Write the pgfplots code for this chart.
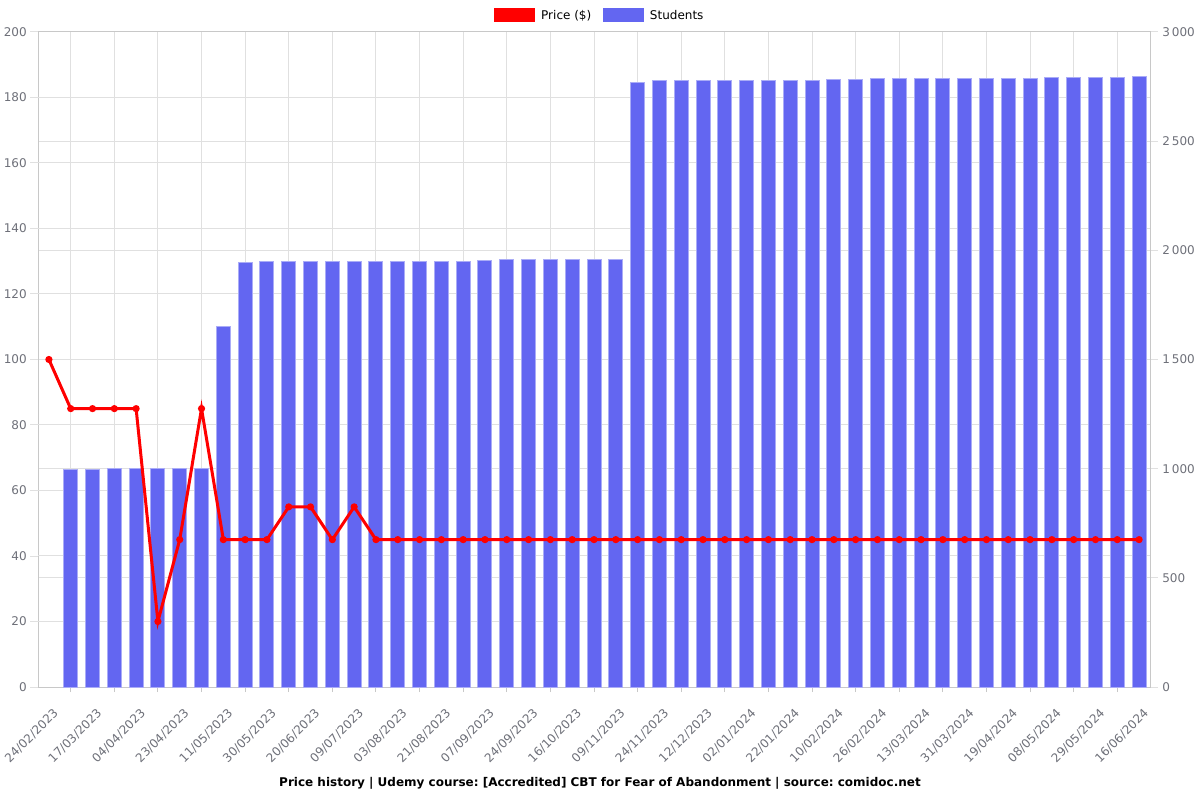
\documentclass[border=0pt]{standalone}
\usepackage{fontspec}
\setmainfont{DejaVu Sans}
\usepackage{pgfplots}
\pgfplotsset{compat=1.18}
\frenchspacing
\definecolor{barblue}{RGB}{99,102,241}
\definecolor{baredge}{RGB}{170,172,247}
\definecolor{tickgray}{RGB}{110,112,121}
\definecolor{gridgray}{RGB}{224,224,224}
\definecolor{axisgray}{RGB}{200,200,200}
\pgfplotsset{
  /pgf/number format/assume math mode=true,
  every axis/.append style={
    at={(0pt,0pt)}, anchor=south west,
    scale only axis, width=834pt, height=491.25pt,
    xmin=-0.5, xmax=50.5,
    tick align=outside,
    ticklabel style={font=\fontsize{9}{11}\selectfont, text=tickgray},
  }
}
\begin{document}
\begin{tikzpicture}
\useasboundingbox (-28.5pt,-84.75pt) rectangle (871.5pt,515.25pt);
% Bars axis (right scale), also draws all grids and the x axis
\begin{axis}[
  ymin=0, ymax=3000,
  xtick={0,2,...,50},
  xticklabels={24/02/2023,17/03/2023,04/04/2023,23/04/2023,11/05/2023,30/05/2023,20/06/2023,09/07/2023,03/08/2023,21/08/2023,07/09/2023,24/09/2023,16/10/2023,09/11/2023,24/11/2023,12/12/2023,02/01/2024,22/01/2024,10/02/2024,26/02/2024,13/03/2024,31/03/2024,19/04/2024,08/05/2024,29/05/2024,16/06/2024},
  x tick label style={rotate=45, anchor=north east, inner sep=0pt, yshift=-8.5pt, xshift=-4.75pt},
  minor xtick={1,3,...,49},
  xminorgrids,
  minor grid style={gridgray, line width=0.75pt},
  major grid style={gridgray, line width=0.75pt},
  xtick pos=left,
  x tick style={draw=none},
  minor x tick style={draw=axisgray, line width=0.75pt},
  minor tick length=3.75pt,
  ytick={0,500,...,3000},
  ytick pos=right, yticklabel pos=right,
  ymajorgrids,
  y tick style={draw=gridgray, line width=0.75pt},
  major tick length=6pt,
  y tick label style={anchor=west, inner sep=0pt, xshift=3pt,
    /pgf/number format/1000 sep={\,}},
  extra y ticks={300,600,900,1200,1800,2100,2400,2700},
  extra y tick labels={},
  extra y tick style={grid=major, major tick length=0pt},
  axis line style={draw=axisgray, line width=0.75pt},
]
\addplot[ybar, bar width=10.5pt, fill=barblue, draw=baredge, line width=0.75pt] coordinates {
(1,997) (2,998) (3,1000) (4,1002) (5,1002) (6,1002) (7,1002) (8,1653)
(9,1945) (10,1947) (11,1948) (12,1948) (13,1950) (14,1950) (15,1950) (16,1950)
(17,1950) (18,1950) (19,1951) (20,1953) (21,1956) (22,1957) (23,1959) (24,1959)
(25,1960) (26,1960) (27,2770) (28,2777) (29,2777) (30,2777) (31,2777) (32,2777)
(33,2777) (34,2779) (35,2779) (36,2783) (37,2783) (38,2785) (39,2785) (40,2787)
(41,2787) (42,2787) (43,2788) (44,2788) (45,2788) (46,2790) (47,2790) (48,2790)
(49,2792) (50,2795)
};
\end{axis}
% Price axis (left scale)
\begin{axis}[
  ymin=0, ymax=200,
  ytick={0,20,...,200},
  ytick pos=left,
  y tick style={draw=gridgray, line width=0.75pt},
  major tick length=6pt,
  y tick label style={anchor=east, inner sep=0pt, xshift=-2.25pt},
  xtick=\empty,
  axis line style={draw=none},
  legend columns=2,
  legend style={at={(0.5,1)}, anchor=center, yshift=12.4pt, xshift=4.5pt, draw=none, fill=none,
    font=\fontsize{9}{11}\selectfont,
    /tikz/every odd column/.append style={column sep=2.5pt},
    /tikz/every even column/.append style={column sep=6.5pt}},
  legend image code/.code={\path[#1, draw=none] (0pt,-5.25pt) rectangle (31pt,5.25pt);},
]
\addlegendimage{fill=red}
\addlegendentry{Price (\$)}
\addlegendimage{fill=barblue}
\addlegendentry{Students}
\addplot[forget plot, red, line width=2.25pt, mark=*, mark size=1.5pt, mark options={fill=red}] coordinates {
(0,100) (1,85) (2,85) (3,85) (4,85) (5,20) (6,45) (7,85) (8,45) (9,45)
(10,45) (11,55) (12,55) (13,45) (14,55) (15,45) (16,45) (17,45) (18,45) (19,45)
(20,45) (21,45) (22,45) (23,45) (24,45) (25,45) (26,45) (27,45) (28,45) (29,45)
(30,45) (31,45) (32,45) (33,45) (34,45) (35,45) (36,45) (37,45) (38,45) (39,45)
(40,45) (41,45) (42,45) (43,45) (44,45) (45,45) (46,45) (47,45) (48,45) (49,45)
(50,45)
};
\end{axis}
\node[font=\bfseries\fontsize{9}{11}\selectfont] at (421.5pt,-72pt) {Price history | Udemy course: [Accredited] CBT for Fear of Abandonment | source: comidoc.net};
\end{tikzpicture}
\end{document}
